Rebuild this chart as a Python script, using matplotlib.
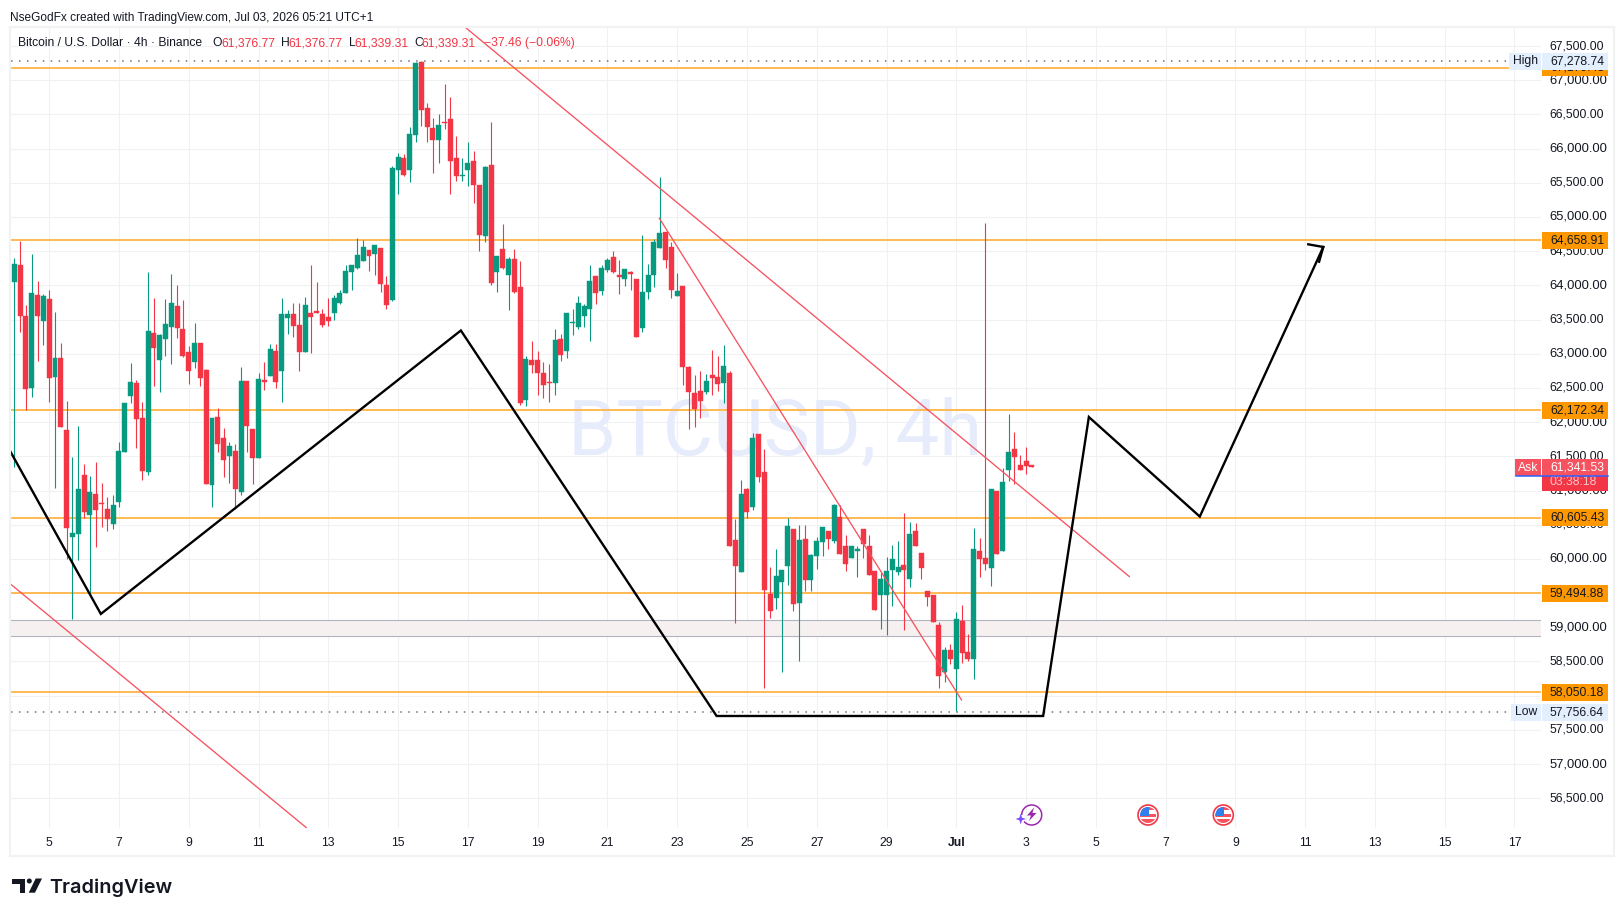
#!/usr/bin/env python3
"""BTCUSD 4h TradingView snapshot with hand drawn levels and a projected path."""
import matplotlib

matplotlib.use("Agg")
import matplotlib.pyplot as plt
import numpy as np
from matplotlib.patches import Arc, Circle, Polygon, Rectangle
from matplotlib.transforms import Affine2D, IdentityTransform, blended_transform_factory

W, H = 1623, 916
RED = "#f23645"
GREEN = "#089981"
INK = "#131722"
FONT = "Liberation Sans"

# one entry per 4h bar, first bar is Jun 4 00:00
opens = [
    64055, 64298, 63553, 62505, 63860, 63484, 63801, 62665, 62938, 61886, 60326, 60370, 61228, 60643, 60950, 60818,
    60730, 60516, 60838, 61569, 62388, 62573, 62061, 61276, 63304, 62914, 63221, 63397, 63699, 63362, 63026, 62885,
    63158, 62763, 61086, 62076, 61769, 61510, 61579, 60984, 62602, 61900, 61481, 62617, 62680, 63041, 62753, 63528,
    63582, 63421, 63031, 63596, 63626, 63582, 63538, 63601, 63747, 63894, 64196, 64254, 64362, 64518, 64464, 64547,
    64006, 63786, 65682, 65862, 65691, 66203, 67266, 66593, 66300, 66130, 66393, 66432, 65862, 65599, 65691, 65818,
    65467, 64726, 65760, 64200, 64531, 64156, 64385, 63976, 62328, 62908, 62908, 62718, 62587, 62577, 63215, 63045,
    63449, 63396, 63556, 63659, 64136, 63922, 64224, 64414, 64151, 64097, 64195, 64093, 63381, 63907, 64156, 64551,
    64780, 64561, 63849, 63991, 62806, 62426, 62455, 62445, 62689, 62660, 62577, 62720, 60278, 59815, 61024, 60765,
    61828, 61272, 59489, 59421, 59669, 59903, 60439, 59362, 60293, 59698, 60049, 60254, 60410, 60268, 60614, 60190,
    60020, 60122, 60439, 60190, 59825, 59479, 59479, 59845, 59815, 59913, 59713, 60410, 60088, 59533, 59474, 59036,
    58353, 58670, 58397, 59094, 58641, 58543, 60117, 60015, 59874, 60995, 60122, 61306, 61608, 61375, 61433, 61376.77,
]
highs = [
    64396, 64649, 63713, 64459, 64064, 63874, 63933, 63606, 63153, 62310, 61486, 61944, 61388, 61213, 61413, 61111,
    60906, 60935, 61710, 62280, 62865, 62617, 62295, 64196, 63816, 63289, 63801, 64167, 64006, 63786, 63114, 63450,
    63158, 62778, 62061, 62207, 61915, 61710, 61681, 62807, 62602, 61900, 62719, 62885, 63143, 63143, 63816, 63640,
    63743, 63743, 63830, 64298, 64050, 63655, 63816, 63860, 63933, 64298, 64298, 64688, 64664, 64518, 64591, 64547,
    64137, 65745, 65930, 65920, 66310, 67266, 67280, 66666, 66447, 66505, 66944, 66754, 66184, 65862, 66096, 65964,
    65467, 65745, 66388, 64429, 64897, 64414, 64531, 64356, 62967, 63186, 63040, 62879, 62850, 63362, 63288, 63595,
    63654, 63844, 63727, 64297, 64136, 64297, 64400, 64502, 64370, 64239, 64210, 64093, 64736, 64312, 64678, 65584,
    64780, 64634, 64180, 63991, 62821, 62689, 62748, 62704, 63055, 62967, 63128, 62749, 60585, 61155, 61038, 61842,
    61828, 61609, 59883, 60147, 59840, 60600, 60439, 60497, 60497, 60074, 60322, 60468, 60410, 60804, 60790, 60351,
    60190, 60190, 60439, 60351, 59825, 59796, 60030, 60205, 60264, 60673, 60541, 60527, 60088, 59533, 59474, 59079,
    58714, 58758, 59226, 59328, 58904, 60454, 60307, 64918, 61024, 60995, 61331, 62120, 61857, 61521, 61638, 61376.77,
]
lows = [
    61349, 63323, 62178, 62373, 62899, 63128, 62300, 61042, 61934, 59999, 59127, 59990, 60594, 59497, 60180, 60472,
    60414, 60443, 60765, 61569, 62285, 61627, 61159, 61233, 62534, 62446, 62973, 62856, 63226, 62958, 62563, 62797,
    62534, 61101, 60765, 61569, 61203, 61116, 60726, 60940, 61569, 61101, 61481, 62475, 62680, 62505, 62300, 63289,
    63250, 62753, 63031, 63016, 63601, 63397, 63406, 63494, 63728, 63894, 63933, 64240, 64362, 64210, 64152, 63903,
    63655, 63776, 65340, 65599, 65516, 66101, 66330, 66096, 65643, 65789, 66286, 65340, 65530, 65526, 65452, 65209,
    64507, 64638, 64010, 63907, 64239, 63644, 63893, 62255, 62240, 62723, 62401, 62357, 62299, 62401, 62898, 62942,
    63279, 63366, 63396, 63191, 63732, 63864, 64195, 64180, 63878, 63995, 63937, 63250, 63322, 63805, 63981, 64551,
    64258, 63820, 63849, 62548, 61900, 61933, 62065, 62416, 62401, 62460, 62284, 60195, 59070, 59815, 60605, 60722,
    61131, 58105, 59143, 59274, 58339, 59625, 59231, 58514, 59537, 59537, 59859, 60049, 60151, 60239, 60078, 59830,
    60020, 59742, 60020, 59771, 59260, 58982, 58880, 59318, 59771, 58967, 59596, 60195, 59713, 59318, 59084, 58105,
    58207, 58470, 57778, 58485, 58500, 58251, 59742, 59845, 59611, 60078, 60122, 61146, 61102, 61306, 61248, 61339.31,
]
closes = [
    64313, 63557, 62490, 63884, 63557, 63845, 62651, 62938, 61934, 60458, 60380, 61023, 60691, 60979, 60721, 60808,
    60589, 60789, 61579, 62280, 62587, 62051, 61291, 63333, 63090, 63275, 63436, 63743, 63382, 62973, 62753, 63158,
    62651, 61101, 62061, 61686, 61452, 61652, 61028, 62602, 61949, 61481, 62631, 62592, 63070, 62592, 63582, 63582,
    63411, 63031, 63713, 63538, 63601, 63421, 63484, 63816, 63889, 64210, 64298, 64444, 64561, 64430, 64591, 64025,
    63718, 65716, 65876, 65613, 66213, 67251, 66569, 66315, 66130, 66344, 66374, 65823, 65604, 65613, 65789, 65472,
    64741, 65730, 64039, 64429, 64253, 64385, 63907, 62284, 62923, 62840, 62723, 62548, 62572, 63201, 62986, 63595,
    63464, 63742, 63698, 64063, 63893, 64253, 64370, 64195, 64127, 64239, 64171, 63250, 63903, 64151, 64634, 64766,
    64375, 63937, 63917, 62811, 62445, 62197, 62314, 62602, 62650, 62562, 62821, 60195, 59903, 60951, 60692, 61769,
    61204, 59552, 59245, 59752, 59840, 60483, 59347, 60278, 59698, 60059, 60264, 60468, 60293, 60790, 60078, 59932,
    60190, 60147, 60225, 59771, 59260, 59708, 59825, 60000, 59883, 59845, 60366, 60195, 59874, 59450, 59084, 58295,
    58670, 58529, 59123, 58631, 58543, 60147, 60005, 59932, 61024, 60078, 61126, 61565, 61496, 61306, 61365, 61339.31,
]

level_prices = [67179.43, 64658.91, 62172.34, 60605.43, 59494.88, 58050.18]
level_labels = ["67,179.43", "64,658.91", "62,172.34", "60,605.43", "59,494.88", "58,050.18"]
zone_low, zone_high = 58869, 59103
high_price, low_price, ask_price = 67278.74, 57756.64, 61341.53

# drawn lines as (day since Jun 4, price)
red_line_a = ([12.95, 31.96], [67763, 59742])
red_line_b = ([18.49, 27.15], [64981, 57937])
red_line_c = ([-0.11, 8.37], [59633, 56070])
path_days = [-0.11, 2.48, 12.80, 20.13, 29.49, 30.80, 33.98, 37.52]
path_prices = [61568, 59195, 63340, 57703, 57703, 62075, 60619, 64561]
arrow_days = [37.09, 37.52, 37.40]
arrow_prices = [64600, 64561, 64346]

price_ticks = list(range(56500, 68000, 500))
day_ticks = list(range(1, 44, 2))
day_labels = ["5", "7", "9", "11", "13", "15", "17", "19", "21", "23", "25", "27", "29",
              "Jul", "3", "5", "7", "9", "11", "13", "15", "17"]


fig = plt.figure(figsize=(W / 100, H / 100), dpi=100)
PANE_L, PANE_R, PANE_T, PANE_B = 10.5, 1541, 27, 828
ax = fig.add_axes([PANE_L / W, 1 - PANE_B / H, (PANE_R - PANE_L) / W, (PANE_B - PANE_T) / H])
ax.set_xlim(-0.109, 43.76)
ax.set_ylim(56065, 67778)
ax.autoscale(False)
for s in ax.spines.values():
    s.set_visible(False)

# top-left pixel coords, and pixel x with price y
px = Affine2D().scale(1, -1).translate(0, H)
blend = blended_transform_factory(IdentityTransform(), ax.transData)
PRICE_PER_PX = (67778 - 56065) / (PANE_B - PANE_T)

ax.set_axisbelow(True)
ax.grid(color="#f0f1f3", lw=0.75)
ax.set_xticks(day_ticks, day_labels)
ax.set_yticks(price_ticks, [f"{v:,.2f}" for v in price_ticks])
ax.yaxis.tick_right()
ax.tick_params(axis="both", length=0, colors=INK, labelsize=8.7)
ax.tick_params(axis="y", pad=6.2)
ax.tick_params(axis="x", pad=6.7)
for lab, v in zip(ax.get_yticklabels(), price_ticks):
    lab.set_family(FONT)
    lab.set_verticalalignment("center")
    if v % 1000 == 0:
        lab.set_fontsize(9.4)
for lab in ax.get_xticklabels():
    lab.set_family(FONT)
    if lab.get_text() == "Jul":
        lab.set_fontweight("bold")

ax.text(568, H - 455, "BTCUSD, 4h", transform=IdentityTransform(), family="Roboto", fontsize=56,
        color="#e6ecfb", va="baseline", zorder=0.8)

# levels and zone
ax.axhspan(zone_low, zone_high, color="#f7f0f1", lw=0, zorder=1)
for p in (zone_low, zone_high):
    ax.axhline(p, color="#b2b5be", lw=0.8, zorder=1.1)
for p in level_prices:
    ax.axhline(p, color="#ffb74d", lw=1.35, zorder=2)
for p, right in ((high_price, 1509), (low_price, 1509)):
    ax.plot([PANE_L, right], [p, p], transform=blend, color="#6f7280", lw=1.1,
            ls=(0, (1, 4.2)), zorder=2.1)

# candles
x = np.arange(len(closes)) / 6
o, h, l, c = map(np.array, (opens, highs, lows, closes))
cols = np.where(c >= o, GREEN, RED)
ax.vlines(x, l, h, colors=cols, lw=0.8, zorder=3)
ax.bar(x, np.abs(c - o), bottom=np.minimum(o, c), width=0.143, color=cols, edgecolor=cols, lw=0.3, zorder=3.1)

# drawings
for days, prices in (red_line_a, red_line_b, red_line_c):
    ax.plot(days, prices, color="#f7525f", lw=0.95, zorder=4)
ax.plot(path_days, path_prices, color="black", lw=1.7, zorder=5, solid_joinstyle="miter")
ax.plot(arrow_days, arrow_prices, color="black", lw=1.7, zorder=5, solid_joinstyle="miter")


def tag(price, text, bg, fg=INK, left=1542, right=1608, z=6, pad=8.5):
    half = pad * PRICE_PER_PX
    ax.add_patch(Rectangle((left, price - half), right - left, 2 * half, transform=blend, color=bg,
                           lw=0, clip_on=False, zorder=z))
    wide = len(text) > 5
    ax.text(left + 8 if wide else (left + right) / 2, price, text, transform=blend, color=fg, family=FONT,
            fontsize=8.7, va="center", ha="left" if wide else "center", clip_on=False, zorder=z + 0.1)


for p, lab in zip(level_prices, level_labels):
    tag(p, lab, "#ff9800")
tag(high_price, "67,278.74", "#e3effd", z=7)
tag(high_price, "High", "#e3effd", left=1509, right=1541, z=7)
tag(low_price, "57,756.64", "#e3effd", z=7)
tag(low_price, "Low", "#e3effd", left=1511, right=1541, z=7)

# countdown sits below the ask tag
timer_mid = ask_price - 15 * PRICE_PER_PX
tag(timer_mid, "03:38:18", RED, fg="#fbc4c9", z=7.5)
ask_mid = ask_price - 0.5 * PRICE_PER_PX
tag(ask_mid, "61,341.53", "#f7525f", fg="white", z=8)
tag(ask_mid, "Ask", "#f7525f", fg="white", left=1515, right=1541, z=8)
rule_y = ask_mid - 8.5 * PRICE_PER_PX
ax.plot([1516, 1541], [rule_y, rule_y], transform=blend, color="#2962ff", lw=1.1, clip_on=False, zorder=9)
ax.plot([1542, 1608], [rule_y, rule_y], transform=blend, color="#2962ff", lw=1.1, clip_on=False, zorder=9)

# header and legend
fig.text(10, 17, "NseGodFx created with TradingView.com, Jul 03, 2026 05:21 UTC+1", transform=px,
         family=FONT, fontsize=8.6, color=INK, va="center_baseline")
legend_bits = [
    (18, "Bitcoin / U.S. Dollar · 4h · Binance", INK), (212.7, "O", INK), (221, "61,376.77", RED),
    (280.7, "H", INK), (288, "61,376.77", RED), (349, "L", INK), (354, "61,339.31", RED),
    (414, "C", INK), (421, "61,339.31", RED), (484, "−37.46 (−0.06%)", RED),
]
for lx, txt, col in legend_bits:
    fig.text(lx, 41.7, txt, transform=px, family=FONT, fontsize=8.7, color=col, va="center_baseline")

# outer frame
fig.add_artist(Rectangle((9.5, 26.5), 1604, 829, transform=px, fill=False, ec="#f1f2f4", lw=1.6))

# logo
fig.add_artist(Polygon([(12, 878.5), (25.3, 878.5), (25.3, 892.7), (20, 892.7), (20, 883.5), (12, 883.5)],
                       transform=px, color=INK, lw=0))
fig.add_artist(Polygon([(42, 878.5), (35.7, 878.5), (28.7, 892.7), (35, 892.7)], transform=px, color=INK, lw=0))
fig.add_artist(Circle((29.3, 881), 2.5, transform=px, color=INK, lw=0))
fig.text(49, 893, "TradingView", transform=px, family="Inter", fontweight="semibold", fontsize=14.3,
         color=INK, va="baseline")


# event icons
def flag_icon(cx, cy):
    fig.add_artist(Circle((cx, cy), 10, transform=px, fc="white", ec=RED, lw=1.2, zorder=4))
    clip = Circle((cx, cy), 8, transform=px)
    parts = [
        (cx - 8, cy - 8, 16, 3, "#f7525f"), (cx - 8, cy - 1, 16, 3, "#f7525f"), (cx - 8, cy + 4, 16, 3.5, "#f7525f"),
        (cx - 8, cy - 8, 9, 9, "#2f80ed"),
    ]
    for rx, ry, rw, rh, col in parts:
        r = Rectangle((rx, ry), rw, rh, transform=px, color=col, lw=0, zorder=4.1)
        fig.add_artist(r)
        r.set_clip_path(clip)


flag_icon(1148, 815)
flag_icon(1223.3, 815)
fig.add_artist(Arc((1031.7, 815), 20, 20, theta1=180, theta2=500, transform=px, ec="#9c27b0", lw=1.1, zorder=4))
fig.add_artist(Polygon([(1034, 807.5), (1027, 815.5), (1031, 815.5), (1029, 821), (1036.5, 813), (1032.5, 813)],
                       transform=px, color="#9c27b0", lw=0, zorder=4.1))
fig.add_artist(Polygon([(1020.7, 813.5), (1022, 817.7), (1026, 819), (1022, 820.3), (1020.7, 824.5),
                        (1019.4, 820.3), (1015.5, 819), (1019.4, 817.7)],
                       transform=px, color="#7c4dff", lw=0, zorder=4.1))

fig.savefig("out.png", dpi=100)
